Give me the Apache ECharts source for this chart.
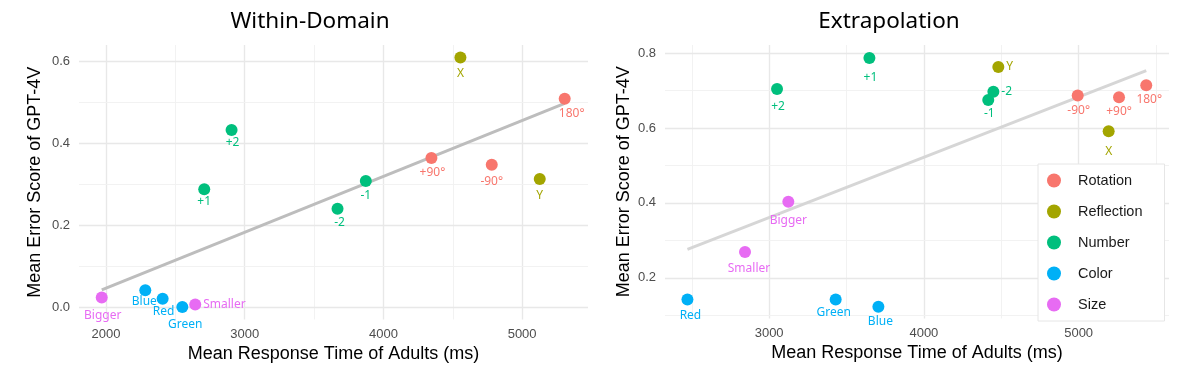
<!DOCTYPE html>
<html>
<head>
<meta charset="utf-8">
<script src="https://cdn.jsdelivr.net/npm/echarts@6/dist/echarts.min.js"></script>
<style>
  html, body { margin: 0; padding: 0; background: #fff; }
  #chart-container { width: 1196px; height: 374px; }
</style>
</head>
<body>
<div id="chart-container"></div>
<script>
// categories and colours (ggplot default hues)
var categories = ['Rotation', 'Reflection', 'Number', 'Color', 'Size'];
var colors = ['#F8766D', '#A3A500', '#00BF7D', '#00B0F6', '#E76BF3'];

// Within-Domain panel: [label, mean response time (ms), mean error score]
var withinRotation = [['+90°', 4346, 0.364], ['-90°', 4781, 0.348], ['180°', 5307, 0.509]];
var withinReflection = [['X', 4555, 0.610], ['Y', 5127, 0.313]];
var withinNumber = [['+1', 2708, 0.288], ['+2', 2905, 0.433], ['-1', 3873, 0.308], ['-2', 3669, 0.240]];
var withinColor = [['Blue', 2283, 0.041], ['Red', 2408, 0.020], ['Green', 2550, 0.000]];
var withinSize = [['Bigger', 1969, 0.023], ['Smaller', 2643, 0.006]];
var withinTrend = [[1969, 0.042], [5307, 0.498]];

// Extrapolation panel
var extraRotation = [['-90°', 4994, 0.687], ['+90°', 5261, 0.682], ['180°', 5437, 0.714]];
var extraReflection = [['Y', 4481, 0.763], ['X', 5194, 0.591]];
var extraNumber = [['+1', 3648, 0.787], ['+2', 3051, 0.704], ['-1', 4416, 0.675], ['-2', 4449, 0.697]];
var extraColor = [['Red', 2472, 0.142], ['Green', 3430, 0.142], ['Blue', 3706, 0.123]];
var extraSize = [['Smaller', 2844, 0.269], ['Bigger', 3124, 0.403]];
var extraTrend = [[2472, 0.276], [5437, 0.753]];

// axis ticks
var withinXTicks = [2000, 3000, 4000, 5000];
var withinXMinor = [2500, 3500, 4500];
var withinYTicks = [0, 0.2, 0.4, 0.6];
var withinYMinor = [0.1, 0.3, 0.5];
var extraXTicks = [3000, 4000, 5000];
var extraXMinor = [2500, 3500, 4500, 5500];
var extraYTicks = [0.2, 0.4, 0.6, 0.8];
var extraYMinor = [0.1, 0.3, 0.5, 0.7];

// label placement (ggrepel-like nudges), centre offset from point
var labelNudge = [
  { // within
    '+90°': [1, 14], '-90°': [0, 17], '180°': [7, 15], 'X': [0, 16], 'Y': [0, 17],
    '+1': [0, 12], '+2': [1, 13], '-1': [0, 15], '-2': [2, 14],
    'Blue': [-1, 11], 'Red': [1, 13], 'Green': [3, 18], 'Bigger': [1, 18], 'Smaller': 'right'
  },
  { // extrapolation
    '-90°': [1, 15], '+90°': [0, 14], '180°': [3, 14], 'Y': 'right', 'X': [0, 20],
    '+1': [1, 20], '+2': [1, 18], '-1': [1, 14], '-2': 'right',
    'Red': [3, 16], 'Green': [-2, 13], 'Blue': [2, 15], 'Smaller': [4, 17], 'Bigger': [0, 19]
  }
];

var FONT = 'Liberation Sans, Arial, sans-serif';
var panels = [
  { sets: [withinRotation, withinReflection, withinNumber, withinColor, withinSize], trend: withinTrend,
    trendColor: '#bdbdbd', xTicks: withinXTicks, xMinor: withinXMinor, yTicks: withinYTicks, yMinor: withinYMinor },
  { sets: [extraRotation, extraReflection, extraNumber, extraColor, extraSize], trend: extraTrend,
    trendColor: '#d6d6d6', xTicks: extraXTicks, xMinor: extraXMinor, yTicks: extraYTicks, yMinor: extraYMinor }
];

var series = [];
panels.forEach(function (p, gi) {
  // gridlines, drawn under everything
  var major = { color: '#e8e8e8', width: 1.4, type: 'solid' };
  var minor = { color: '#f0f0f0', width: 0.9, type: 'solid' };
  var lines = [];
  p.xTicks.forEach(function (v) { lines.push({ xAxis: v, lineStyle: major }); });
  p.xMinor.forEach(function (v) { lines.push({ xAxis: v, lineStyle: minor }); });
  p.yTicks.forEach(function (v) { lines.push({ yAxis: v, lineStyle: major }); });
  p.yMinor.forEach(function (v) { lines.push({ yAxis: v, lineStyle: minor }); });
  series.push({
    type: 'line', name: 'grid' + gi, xAxisIndex: gi, yAxisIndex: gi, data: [], z: 0, silent: true,
    markLine: { z: 0, silent: true, symbol: 'none', label: { show: false }, animation: false,
      lineStyle: { type: 'solid' }, emphasis: { disabled: true }, data: lines }
  });
  series.push({
    type: 'line', name: 'trend' + gi, xAxisIndex: gi, yAxisIndex: gi, data: p.trend, z: 2,
    showSymbol: false, symbol: 'none', silent: true,
    lineStyle: { color: p.trendColor, width: 3 }
  });
  p.sets.forEach(function (set, ci) {
    series.push({
      type: 'scatter', name: categories[ci], xAxisIndex: gi, yAxisIndex: gi, z: 3,
      symbolSize: 12,
      itemStyle: { color: colors[ci], opacity: 1 },
      data: set.map(function (d) {
        var nudge = labelNudge[gi][d[0]];
        var label = nudge === 'right'
          ? { position: 'right', distance: 2 }
          : { position: 'inside', offset: nudge };
        label.show = true;
        label.formatter = d[0];
        return { name: d[0], value: [d[1], d[2]], label: label };
      }),
      label: { color: colors[ci], fontSize: 12, fontFamily: 'Noto Sans, sans-serif' }
    });
  });
});

var axisNameStyle = { color: '#000', fontSize: 18, fontFamily: FONT };
var tickLabel = { color: '#4d4d4d', fontSize: 13, fontFamily: FONT };

function xAxisFor(gi, min, max, ticks) {
  return {
    type: 'value', gridIndex: gi, min: min, max: max,
    name: 'Mean Response Time of Adults (ms)', nameLocation: 'middle', nameGap: 23,
    nameTextStyle: axisNameStyle,
    axisLine: { show: false }, axisTick: { show: false }, splitLine: { show: false },
    axisLabel: Object.assign({ customValues: ticks, margin: 8,
      formatter: function (v) { return String(v); } }, tickLabel)
  };
}
function yAxisFor(gi, min, max, ticks, gap) {
  return {
    type: 'value', gridIndex: gi, min: min, max: max,
    name: 'Mean Error Score of GPT-4V', nameLocation: 'middle', nameGap: gap,
    nameTextStyle: axisNameStyle,
    axisLine: { show: false }, axisTick: { show: false }, splitLine: { show: false },
    axisLabel: Object.assign({ customValues: ticks, margin: 9,
      formatter: function (v) { return v.toFixed(1); } }, tickLabel)
  };
}

var myChart = echarts.init(document.getElementById('chart-container'), null, { renderer: 'canvas' });

var titleStyle = { fontSize: 22.5, fontWeight: 'normal', color: '#000', fontFamily: 'Noto Sans, sans-serif' };
var option = {
  animation: false,
  backgroundColor: '#fff',
  title: [
    { text: 'Within-Domain', left: 305, top: 5, textAlign: 'center', textStyle: titleStyle },
    { text: 'Extrapolation', left: 884, top: 5, textAlign: 'center', textStyle: titleStyle }
  ],
  grid: [
    { left: 79, top: 45, width: 509, height: 274.5 },
    { left: 665, top: 45, width: 504, height: 273.5 }
  ],
  xAxis: [
    xAxisFor(0, 1805, 5475, withinXTicks),
    xAxisFor(1, 2327, 5584, extraXTicks)
  ],
  yAxis: [
    yAxisFor(0, -0.0305, 0.6405, withinYTicks, 35),
    yAxisFor(1, 0.0915, 0.8215, extraYTicks, 32)
  ],
  legend: {
    data: categories,
    orient: 'vertical',
    left: 1038, top: 164,
    padding: [9, 22, 9, 9],
    itemWidth: 14, itemHeight: 14, itemGap: 16,
    icon: 'circle',
    z: 6,
    backgroundColor: '#fff',
    borderColor: '#e6e6e6', borderWidth: 1,
    textStyle: { fontSize: 14.5, color: '#1a1a1a', fontFamily: FONT, padding: [0, 0, 0, 12] }
  },
  series: series
};

myChart.setOption(option);
</script>
</body>
</html>
